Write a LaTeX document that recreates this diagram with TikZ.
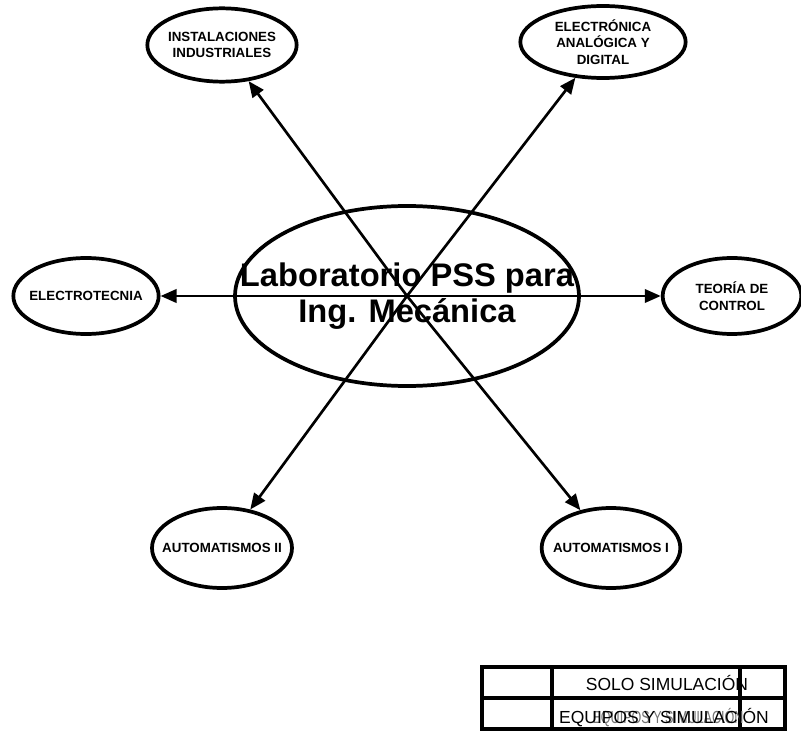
\documentclass[tikz,border=0pt]{standalone}
\usepackage{fontspec}
\setmainfont{Liberation Sans}
\usetikzlibrary{arrows.meta,shapes.geometric}

\begin{document}
\begin{tikzpicture}[x=0.75pt,y=-0.75pt,>={Triangle[length=12pt,width=10pt]},
 tema/.style={draw,ellipse,line width=2.8pt,inner sep=0pt},
 rotulo/.style={align=center,inner sep=0pt,font=\bfseries\fontsize{10}{12.5}\selectfont},
 flecha/.style={->,line width=2pt},
 celda/.style={anchor=base,inner sep=0pt,font=\fontsize{13.1}{15}\selectfont},
 rejilla/.style={line width=2.8pt}]
\useasboundingbox (0,0) rectangle (801,731);
\node[tema,minimum width=258pt,minimum height=135pt,
 label={[align=center,font=\bfseries\fontsize{24.5}{27}\selectfont]center:Laboratorio PSS para\\Ing. Mecánica}] (lab) at (407,296) {};
\node[tema,minimum width=112pt,minimum height=55pt,label={[rotulo]center:INSTALACIONES\\INDUSTRIALES}] (inst) at (222,45) {};
\node[tema,minimum width=124pt,minimum height=54pt,label={[rotulo]center:ELECTRÓNICA\\ANALÓGICA Y\\DIGITAL}] (elec) at (603,42) {};
\node[tema,minimum width=109pt,minimum height=57pt,label={[rotulo]center:ELECTROTECNIA}] (etec) at (86,296) {};
\node[tema,minimum width=104pt,minimum height=57pt,label={[rotulo]center:TEORÍA DE\\CONTROL}] (teo) at (732,296) {};
\node[tema,minimum width=105pt,minimum height=60pt,label={[rotulo]center:AUTOMATISMOS II}] (aut2) at (222,548) {};
\node[tema,minimum width=104pt,minimum height=60pt,label={[rotulo]center:AUTOMATISMOS I}] (aut1) at (611,548) {};
\draw[flecha] (lab.center)--(inst); \draw[flecha] (lab.center)--(aut1);
\draw[flecha] (lab.center)--(elec); \draw[flecha] (lab.center)--(aut2);
\draw[flecha] (lab.center)--(etec); \draw[flecha] (lab.center)--(teo);
% leyenda
\draw[rejilla] (482,667) rectangle (785,729);
\draw[line width=3.6pt] (482,667)--(785,667);
\draw[rejilla] (482,698)--(785,698);
\draw[rejilla] (552,667)--(552,729); \draw[rejilla] (740,667)--(740,729);
\node[celda,text=black!55] (sombra) at (668,723) {\scalebox{0.72}[1]{EQUIPOS Y SIMULACIÓN}};
\node[celda] (solo) at (667,690) {SOLO SIMULACIÓN};
\node[celda] (equipos) at (664,723) {EQUIPOS Y SIMULACIÓN};
\end{tikzpicture}
\end{document}
